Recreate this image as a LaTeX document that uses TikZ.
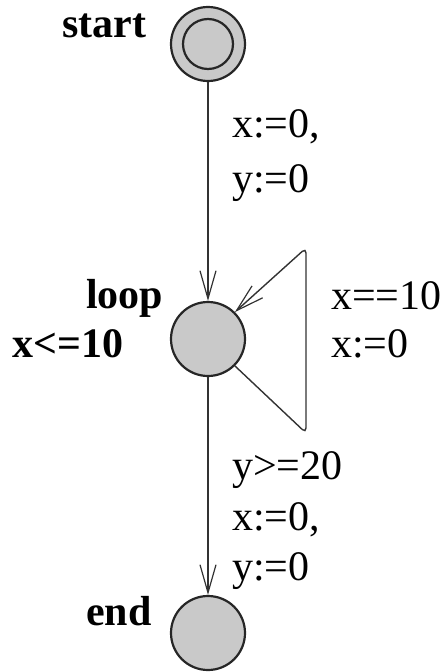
\documentclass[tikz,border=0pt]{standalone}
\usepackage{fontspec}
\setmainfont{Liberation Serif}
\usetikzlibrary{arrows.meta}
\begin{document}
\begin{tikzpicture}[x=1pt,y=-1pt,
  loc/.style={circle,draw=black!85,line width=2.2pt,fill=black!21,minimum size=74pt,inner sep=0pt},
  edge/.style={draw=black!80,line width=1.4pt,-{Straight Barb[length=28pt,width=16pt,line width=1.2pt]}},
  lbl/.style={anchor=base west,inner sep=0pt,font=\fontsize{42}{46}\selectfont},
  blbl/.style={anchor=base west,inner sep=0pt,font=\fontsize{42}{46}\selectfont\bfseries}]
\useasboundingbox (0,0) rectangle (446,672);
\node[loc] (start) at (208,44) {};
\node[circle,draw=black!85,line width=2.2pt,minimum size=50pt,inner sep=0pt] (startin) at (208,44) {};
\node[loc] (loop) at (208,339) {};
\node[loc] (end) at (208,633) {};
\node[blbl] (tstart) at (62,37) {start};
\node[blbl] (tloop) at (86,308) {loop};
\node[blbl] (tinv) at (12,357) {x<=10};
\node[blbl] (tend) at (86,625) {end};
\node[lbl] (a1) at (232,137) {x:=0,};
\node[lbl] (a2) at (232,192) {y:=0};
\node[lbl] (b1) at (331,309) {x==10};
\node[lbl] (b2) at (331,357) {x:=0};
\node[lbl] (c1) at (232,479) {y>=20};
\node[lbl] (c2) at (232,530) {x:=0,};
\node[lbl] (c3) at (232,580) {y:=0};
\coordinate (lb) at (306,433);
\coordinate (lt) at (306,248);
\draw[edge] (start) -- (loop);
\draw[edge] (loop) -- (end);
\draw[edge,rounded corners=5pt] (loop.-45) -- (lb) -- (lt) -- (loop.45);
\end{tikzpicture}
\end{document}
